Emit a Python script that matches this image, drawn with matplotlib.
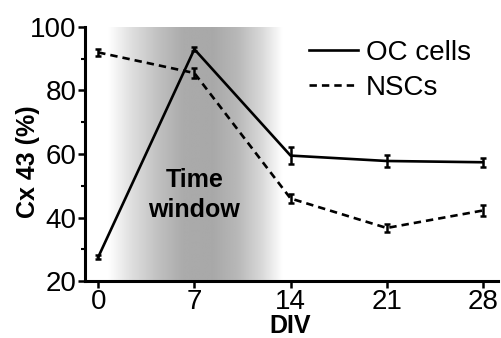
import numpy as np
import matplotlib
matplotlib.use("Agg")
import matplotlib.pyplot as plt
from matplotlib.ticker import MultipleLocator
from matplotlib.lines import Line2D

plt.rcParams['font.family'] = ['Liberation Sans', 'DejaVu Sans']

div = [0, 7, 14, 21, 28]
oc_cells = [27.5, 93.0, 59.5, 57.8, 57.4]
oc_err = [0.6, 0.6, 2.7, 2.0, 1.4]
nscs = [92.0, 85.5, 46.0, 36.7, 42.2]
nscs_err = [1.0, 1.5, 1.4, 1.2, 1.7]
xticks = [0, 7, 14, 21, 28]
yticks = [20, 40, 60, 80, 100]

fig = plt.figure(figsize=(5.02, 3.38), dpi=100)
ax = fig.add_axes([85/502, 1-281/338, (498-85)/502, (281-27)/338])

# gradient "time window"
gx = np.array([0.7, 2.3, 4.4, 6.2, 8.3, 10.1, 11.9, 13.4])
gv = np.array([1.0, 0.88, 0.75, 0.67, 0.66, 0.72, 0.85, 1.0])
xs = np.linspace(gx[0], gx[-1], 400)
prof = np.interp(xs, gx, gv)
ax.imshow(prof[None, :], cmap='gray', vmin=0, vmax=1, aspect='auto',
          extent=[gx[0], gx[-1], 20, 100], interpolation='bilinear', zorder=0)

dash = (0, (2.8, 1.9))
ax.errorbar(div, oc_cells, yerr=oc_err, color='black', lw=1.9, capsize=2.5,
            capthick=1.8, elinewidth=1.8, zorder=3)
ax.errorbar(div, nscs, yerr=nscs_err, color='black', lw=1.9, ls=dash,
            capsize=2.5, capthick=1.8, elinewidth=1.8, zorder=3)

ax.text(7.0, 47, 'Time\nwindow', ha='center', va='center', fontsize=18,
        fontweight='bold', linespacing=1.3, zorder=4)

ax.set_xlim(-0.96, 29.1)
ax.set_ylim(20, 100)
ax.set_xticks(xticks)
ax.set_yticks(yticks)
ax.yaxis.set_minor_locator(MultipleLocator(10))
ax.spines['top'].set_visible(False)
ax.spines['right'].set_visible(False)
for s in ['left', 'bottom']:
    ax.spines[s].set_linewidth(2.2)
ax.tick_params(axis='both', which='major', direction='out', length=5, width=1.8,
               labelsize=20, pad=1)
ax.tick_params(axis='y', which='minor', direction='out', length=3, width=1.5)
ax.tick_params(axis='x', which='minor', length=0)

ax.set_xlabel('DIV', fontsize=18, fontweight='bold')
ax.xaxis.set_label_coords((290-85)/413, -(333-281)/254)
ax.xaxis.label.set_va('baseline')
ax.set_ylabel('Cx 43 (%)', fontsize=18, fontweight='bold')
ax.yaxis.set_label_coords((40-85)/413, 0.47)

handles = [Line2D([], [], color='black', lw=1.9),
           Line2D([], [], color='black', lw=1.9, ls=dash)]
leg = fig.legend(handles, ['OC cells', 'NSCs'], loc='upper left',
                 bbox_to_anchor=(309/502, 1-40/338), frameon=False,
                 fontsize=20, handlelength=1.75, handletextpad=0.3,
                 labelspacing=0.31, borderpad=0, borderaxespad=0)

fig.savefig('out.png', dpi=100)
